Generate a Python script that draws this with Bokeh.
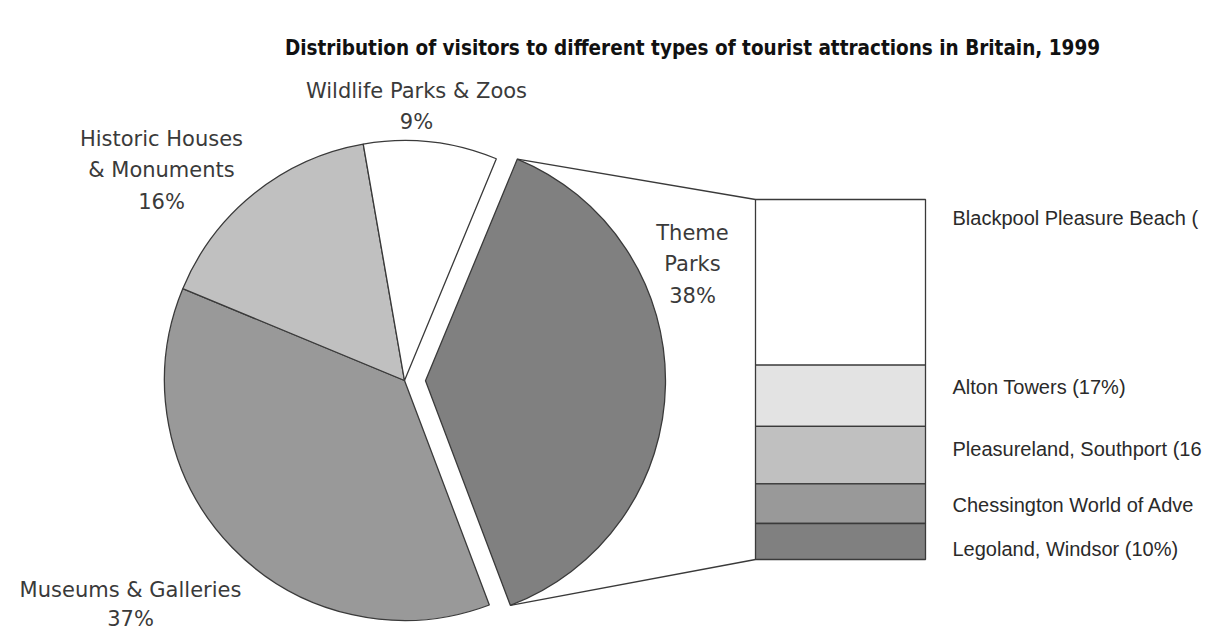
import math
from bokeh.plotting import figure
from bokeh.models import Range1d, ColumnDataSource
from bokeh.core.properties import value
from bokeh.embed import file_html
from bokeh.resources import INLINE

# ---------------- data ----------------
title_text = "Distribution of visitors to different types of tourist attractions in Britain, 1999"

pie_categories = ["Theme Parks", "Museums & Galleries", "Historic Houses & Monuments", "Wildlife Parks & Zoos"]
pie_values = [38, 37, 16, 9]
pie_labels = ["Theme\nParks\n38%", "Museums & Galleries\n37%", "Historic Houses\n& Monuments\n16%", "Wildlife Parks & Zoos\n9%"]
pie_colors = ["#808080", "#999999", "#c0c0c0", "#ffffff"]

park_names = ["Blackpool Pleasure Beach", "Alton Towers", "Pleasureland, Southport",
              "Chessington World of Adventures", "Legoland, Windsor"]
park_values = [46, 17, 16, 11, 10]
# labels as visible in the original (cut at the right edge)
park_labels = ["Blackpool Pleasure Beach (", "Alton Towers (17%)", "Pleasureland, Southport (16",
               "Chessington World of Adve", "Legoland, Windsor  (10%)"]
park_colors = ["#ffffff", "#e3e3e3", "#c0c0c0", "#999999", "#808080"]

# ---------------- layout ----------------
W, H = 1212, 632


def Y(img_y):
    return H - img_y


p = figure(width=W, height=H, output_backend="svg", toolbar_location=None,
           x_range=Range1d(0, W), y_range=Range1d(0, H),
           x_axis_location=None, y_axis_location=None, min_border=0)
p.grid.visible = False
p.outline_line_color = None
p.background_fill_color = "white"
p.border_fill_color = "white"

EDGE = "#3a3a3a"

# title
p.text(x=[692], y=[Y(47)], text=[title_text], text_align="center", text_baseline="middle",
       text_font=value("DejaVu Sans Condensed"), text_font_style="bold", text_font_size="20.5px",
       text_color="#111111")

# pie
cx, cy, R = 404, Y(380), 240
start_offset = 22.5
explode = 21
cum = start_offset
wx, wy, sa, ea = [], [], [], []
for i, v in enumerate(pie_values):
    a0 = cum
    a1 = cum + v * 3.6
    cum = a1
    mid = math.radians((a0 + a1) / 2)
    off = explode if i == 0 else 0
    wx.append(cx + off * math.sin(mid))
    wy.append(cy + off * math.cos(mid))
    sa.append(math.radians(90 - a0))
    ea.append(math.radians(90 - a1))

src = ColumnDataSource(dict(x=wx, y=wy, start=sa, end=ea, color=pie_colors, name=pie_categories))
p.wedge(x="x", y="y", radius=R, start_angle="start", end_angle="end", direction="clock",
        fill_color="color", line_color=EDGE, line_width=1.3, source=src)

# pie labels (image-coordinate anchors of each text block's centre)
label_pos = [(692, 264), (130, 604), (161, 170), (416, 106)]
line_heights = [1.3, 1.2, 1.3, 1.3]
for lp, lab, lh in zip(label_pos, pie_labels, line_heights):
    p.text(x=[lp[0]], y=[Y(lp[1])], text=[lab],
           text_align="center", text_baseline="middle", text_font=value("DejaVu Sans"),
           text_font_size="21px", text_color="#3a3a3a", text_line_height=lh)

# stacked bar on its own y-scale
bar_bottom, bar_top = Y(559), Y(199)
per = (bar_top - bar_bottom) / 100.0
p.extra_y_ranges = {"bar": Range1d(start=(0 - bar_bottom) / per, end=(H - bar_bottom) / per)}

tops, bottoms = [], []
acc = 0
for v in reversed(park_values):
    bottoms.append(acc)
    acc += v
    tops.append(acc)
tops = tops[::-1]
bottoms = bottoms[::-1]
bx0, bx1 = 755, 925
bsrc = ColumnDataSource(dict(bottom=bottoms, top=tops, color=park_colors, name=park_names))
p.quad(left=bx0, right=bx1, bottom="bottom", top="top", fill_color="color", line_color=EDGE,
       line_width=1.3, source=bsrc, y_range_name="bar")

# label offsets from segment centres, in pixels (layout)
label_shift_px = [None, 9, 6, -1, -7]
label_y = []
for i, (b, t) in enumerate(zip(bottoms, tops)):
    if i == 0:
        label_y.append(t - 18 / per)
    else:
        label_y.append((b + t) / 2 + label_shift_px[i] / per)
p.text(x=[952] * len(park_labels), y=label_y, text=park_labels, text_align="left",
       text_baseline="middle", text_font=value("Liberation Sans"), text_font_size="20px",
       text_color="#2a2a2a", y_range_name="bar")

# connectors from exploded wedge to bar
a0 = math.radians(start_offset)
a1 = math.radians(start_offset + pie_values[0] * 3.6)
vx, vy = wx[0], wy[0]
p1 = (vx + R * math.sin(a0), vy + R * math.cos(a0))
p2 = (vx + R * math.sin(a1), vy + R * math.cos(a1))
total = sum(park_values)
p.segment(x0=[p1[0], p2[0]], y0=[p1[1], p2[1]], x1=[bx0, bx0],
          y1=[bar_bottom + total * per, bar_bottom], line_color=EDGE, line_width=1.3)

open("out.html", "w").write(file_html(p, INLINE))
